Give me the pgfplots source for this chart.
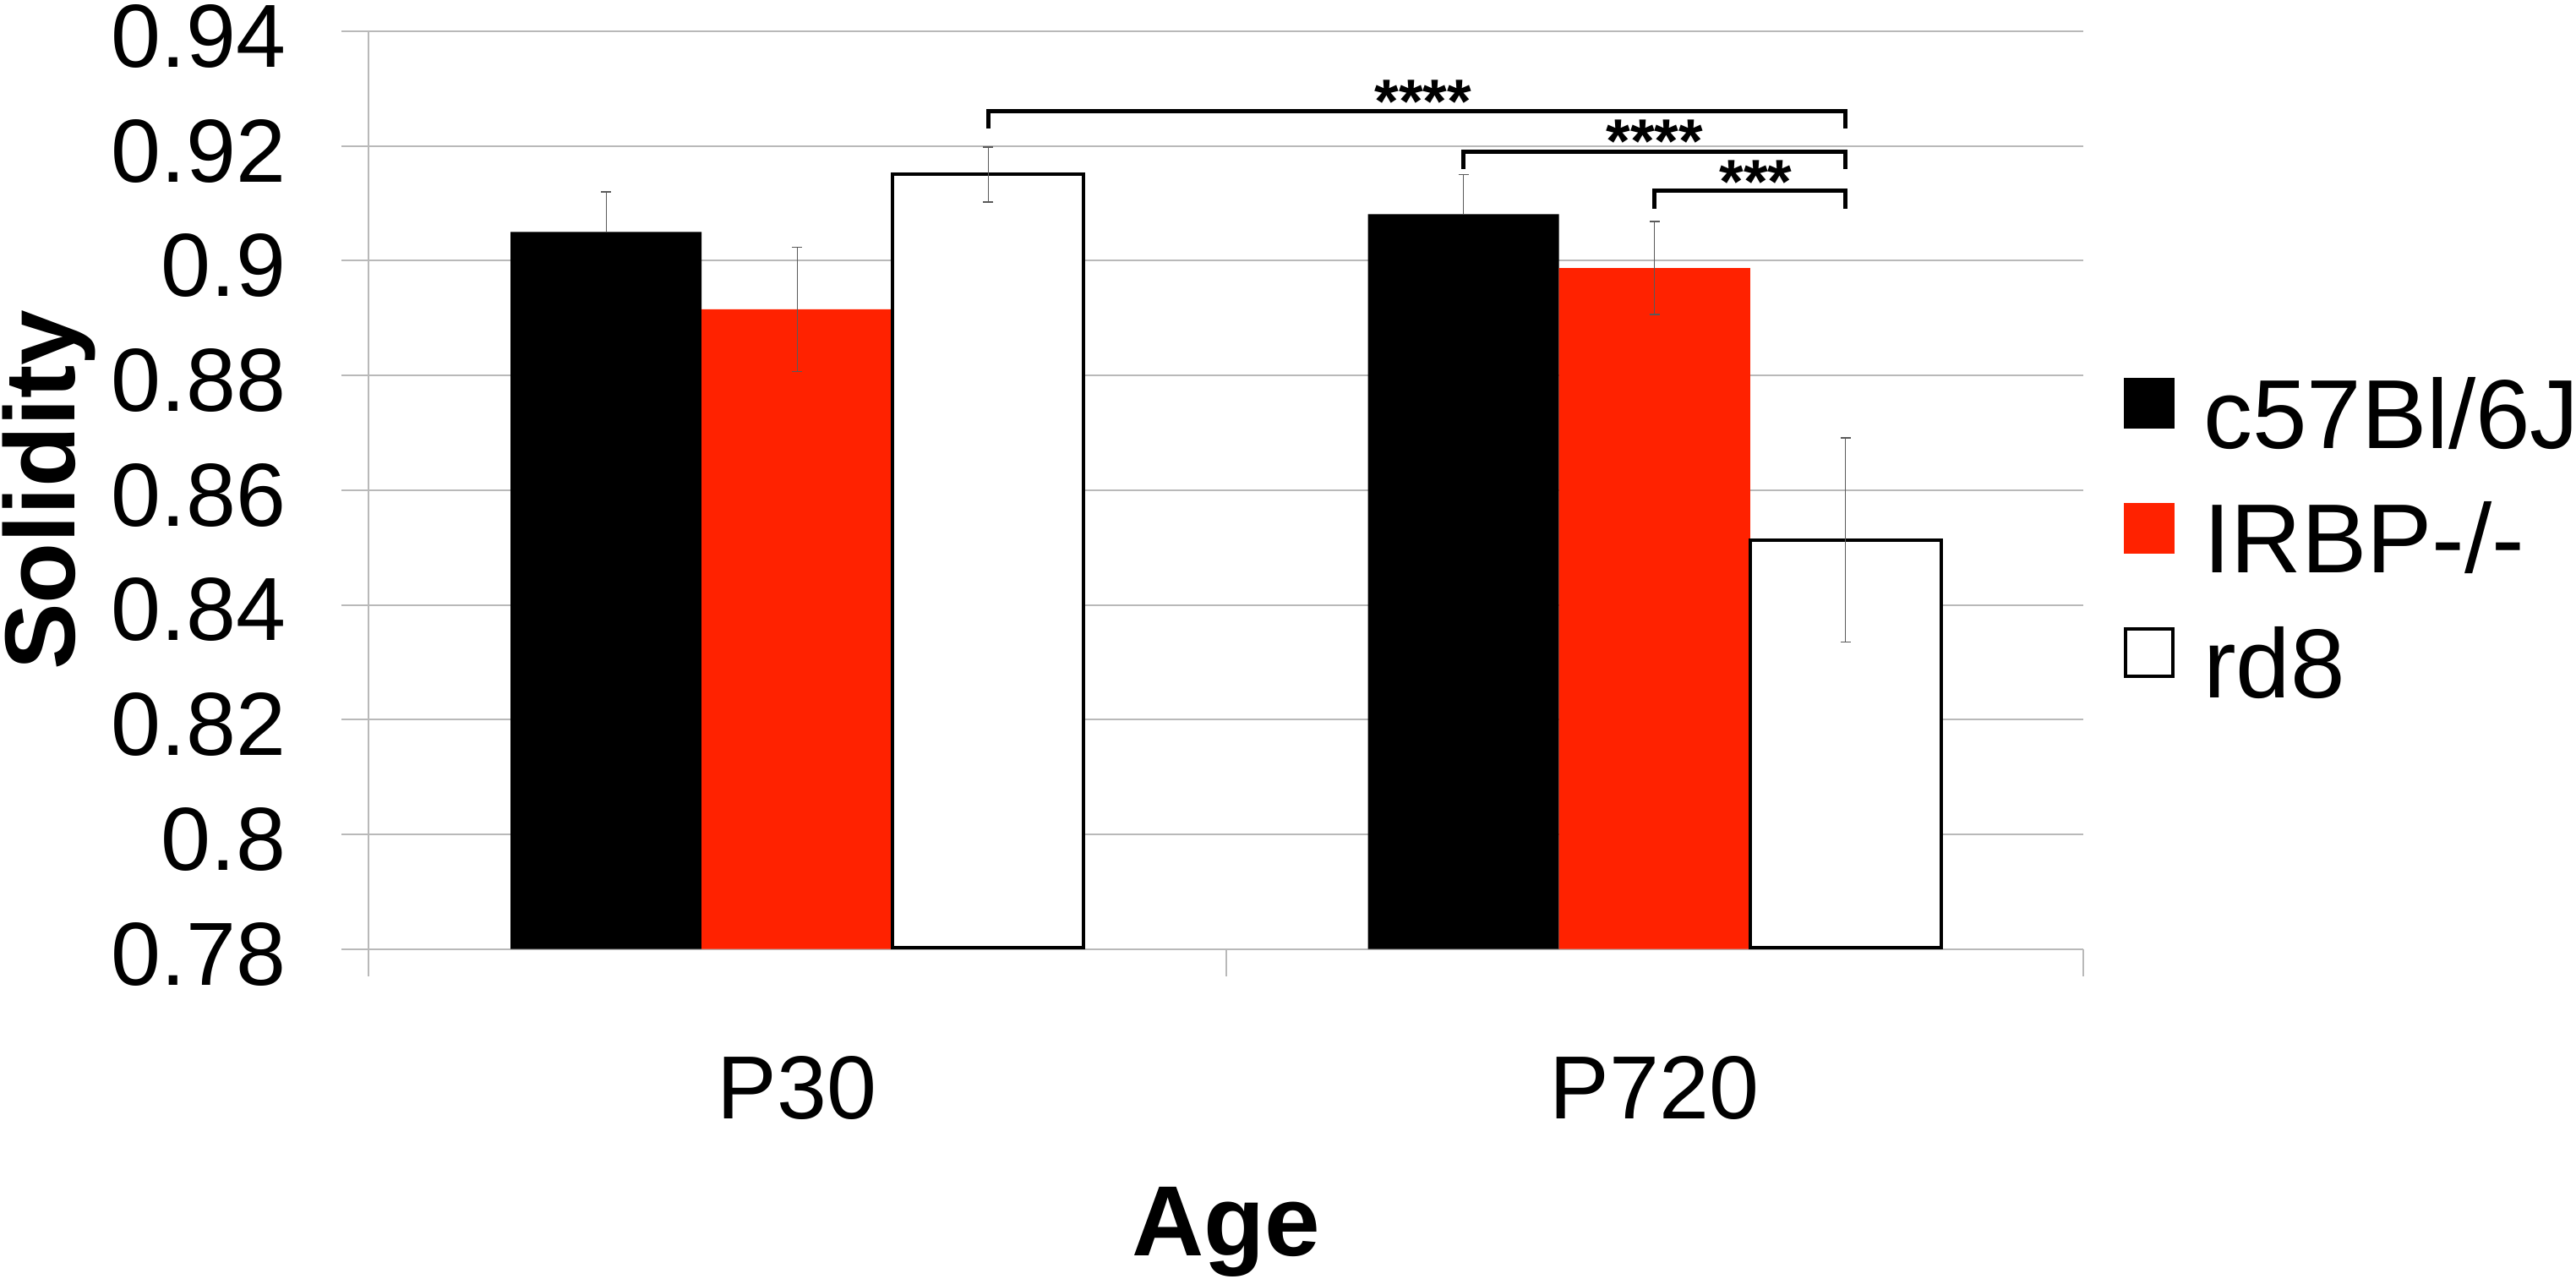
\documentclass[border=0pt]{standalone}
\usepackage{fontspec}
\setmainfont{Liberation Sans}
\usepackage{pgfplots}
\pgfplotsset{compat=1.18}

\definecolor{irbp}{RGB}{255,34,0}
\definecolor{gridc}{RGB}{185,185,185}
\definecolor{errc}{RGB}{90,90,90}

\pgfplotsset{
  sqleg/.style={legend image code/.code={\path[##1] (0pt,5.75pt) rectangle (15pt,20.75pt); \path (23pt,0pt);}},
  sqlegw/.style={legend image code/.code={\path[##1] (0.5pt,6.25pt) rectangle (14.5pt,20.25pt); \path (23pt,0pt);}},
}

\begin{document}
\begin{tikzpicture}
\begin{axis}[
  name=ax,
  scale only axis,
  width=507.25pt, height=271.475pt,
  xmin=-0.5, xmax=1.5,
  ymin=0.78, ymax=0.94,
  ybar=0pt, bar width=0.2228,
  axis x line*=bottom, axis y line*=left,
  axis line style={gridc, line width=0.5pt},
  tick align=outside, major tick length=8pt,
  tick style={gridc, line width=0.5pt},
  xtick={-0.5,0.5,1.5}, xticklabels={},
  extra x ticks={0,1},
  extra x tick labels={P30,P720},
  extra x tick style={major tick length=0pt,
    xticklabel style={anchor=base, yshift=-50.3pt}},
  ytick={0.78,0.80,0.82,0.84,0.86,0.88,0.90,0.92,0.94},
  yticklabels={0.78,0.8,0.82,0.84,0.86,0.88,0.9,0.92,0.94},
  yticklabel shift=16.25pt,
  yticklabel style={anchor=east, inner sep=0pt, yshift=-1.5pt},
  ymajorgrids,
  grid style={gridc, line width=0.5pt},
  tick label style={font=\fontsize{26.5}{26.5}\selectfont},
  xlabel={Age}, ylabel={Solidity},
  every axis x label/.style={at={(rel axis cs:0.5,-0.3337)}, anchor=base,
    font=\fontsize{29.5}{29.5}\selectfont\bfseries},
  every axis y label/.style={at={(rel axis cs:-0.1715,0.5)}, rotate=90, anchor=base,
    font=\fontsize{29.5}{29.5}\selectfont\bfseries},
  legend style={at={(rel axis cs:1.0237,0.6231)}, anchor=north west,
    draw=none, fill=none, inner sep=0pt, outer sep=0pt,
    row sep=14.875pt, column sep=0pt,
    cells={anchor=base west},
    nodes={inner sep=0pt, text height=21pt, text depth=1pt,
      font=\fontsize{29}{29}\selectfont}},
  error bars/error bar style={errc, line width=0.35pt},
  error bars/error mark options={errc, rotate=90, mark size=1.5pt, line width=0.35pt},
]

% c57Bl/6J
\addplot[draw=none, fill=black, sqleg,
  error bars/.cd, y dir=plus, y explicit]
  coordinates {(0,0.9050) +- (0,0.0070) (1,0.9081) +- (0,0.0069)};
\addlegendentry{c57Bl/6J}

% IRBP-/-
\addplot[draw=none, fill=irbp, sqleg,
  error bars/.cd, y dir=both, y explicit]
  coordinates {(0,0.8915) +- (0,0.0108) (1,0.8987) +- (0,0.0081)};
\addlegendentry{IRBP-/-}

% rd8
\addplot[draw=black, fill=white, line width=1pt, sqlegw,
  error bars/.cd, y dir=both, y explicit]
  coordinates {(0,0.9150) +- (0,0.0048) (1,0.8513) +- (0,0.0178)};
\addlegendentry{rd8}

% bottom edge of the white bars
\draw[line width=1pt] (axis cs:0.1114,0.7803) -- (axis cs:0.3342,0.7803);
\draw[line width=1pt] (axis cs:1.1114,0.7803) -- (axis cs:1.3342,0.7803);

% significance brackets
\draw[line width=1.25pt] (axis cs:0.2228,0.9230) |- (axis cs:1.2228,0.9261) -- (axis cs:1.2228,0.9230);
\draw[line width=1.25pt] (axis cs:0.7772,0.9160) |- (axis cs:1.2228,0.9190) -- (axis cs:1.2228,0.9160);
\draw[line width=1.25pt] (axis cs:1.0000,0.9091) |- (axis cs:1.2228,0.9122) -- (axis cs:1.2228,0.9091);
\node[anchor=base, inner sep=0pt, yshift=1.6pt, font=\fontsize{18.4}{18.4}\selectfont\bfseries] at (axis cs:0.730,0.9231) {****};
\node[anchor=base, inner sep=0pt, yshift=1.6pt, font=\fontsize{18.4}{18.4}\selectfont\bfseries] at (axis cs:1.000,0.9161) {****};
\node[anchor=base, inner sep=0pt, yshift=1.6pt, font=\fontsize{18.4}{18.4}\selectfont\bfseries] at (axis cs:1.118,0.9091) {***};
\end{axis}
\pgfresetboundingbox
\path ([shift={(-109pt,-97.325pt)}]ax.south west) rectangle ([shift={(653pt,280.675pt)}]ax.south west);
\end{tikzpicture}
\end{document}
